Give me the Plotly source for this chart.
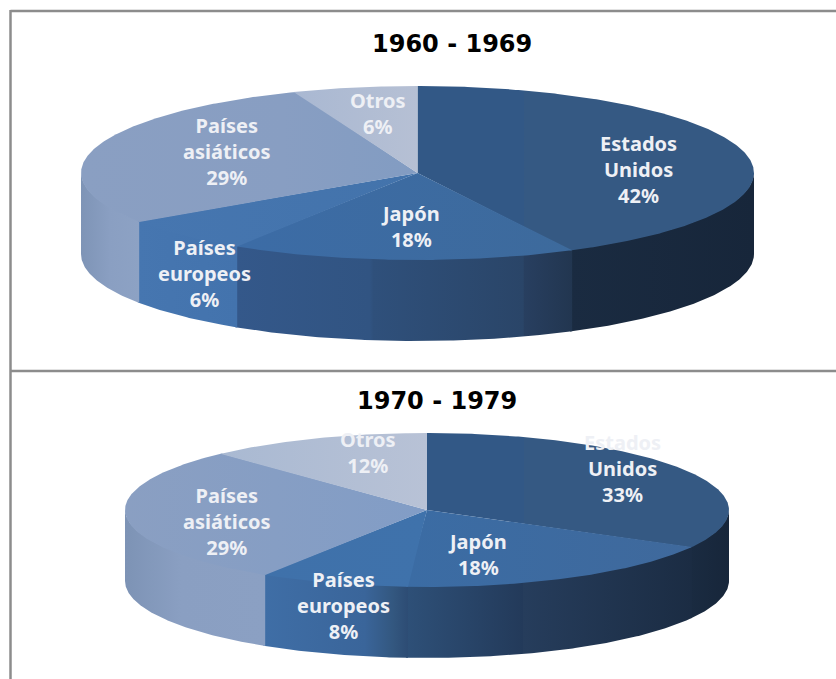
import numpy as np
import plotly.graph_objects as go

W, H = 836, 679

# ---- data ----
periods = ["1960 - 1969", "1970 - 1979"]
categories = ["Estados<br>Unidos", "Japón", "Países<br>europeos", "Países<br>asiáticos", "Otros"]
# percentages printed on the chart
labels_1960s = [42, 18, 6, 29, 6]
labels_1970s = [33, 18, 8, 29, 12]
# slice sizes (the printed 1960s figures add up to 101)
values_1960s = [42.4, 16.6, 6.5, 28.5, 6.0]
values_1970s = [33, 18, 8, 29, 12]

# ---- geometry (pixels) ----
centers_x = [417.5, 427]
centers_y = [173, 510]
radii_x = [336.5, 302]
radii_y = [87, 77]
depths = [81, 71]
title_x = [452, 437]
title_y = [44, 401]
label_x = [[638, 410.5, 204, 227, 378], [622, 477.5, 343, 226.5, 368]]
label_y = [[169.5, 226, 273, 151, 113], [468, 554.5, 605, 521.5, 452]]

# ---- styles ----
top_colors = [
    [[(0, "#325886"), (0.317, "#325886"), (0.318, "#355983"), (1, "#355983")],
     [(0, "#3c6ca6"), (1, "#3d6a9c")],
     [(0, "#4676b0"), (1, "#4373ab")],
     [(0, "#8a9fc2"), (0.6, "#889ec2"), (1, "#829cc2")],
     [(0, "#a9b8d2"), (1, "#b6c0d4")]],
    [[(0, "#325886"), (0.32, "#325886"), (0.321, "#355983"), (1, "#355983")],
     [(0, "#3b6ca4"), (1, "#3f699c")],
     [(0, "#3f71aa"), (1, "#3f72ab")],
     [(0, "#8a9fc2"), (1, "#829dc6")],
     [(0, "#a9b9d2"), (1, "#b8c2d6")]],
]
side_colors = [
    [[(0, "#1a2b41"), (1, "#17263a")],
     [(0, "#34588a"), (0.4, "#315482"), (0.41, "#2f507b"), (0.855, "#2a4568"), (0.857, "#283f60"), (1, "#223650")],
     [(0, "#4676b0"), (1, "#4373ad")],
     [(0, "#7e94b6"), (0.5, "#8a9fc2"), (1, "#8da2c4")],
     [(0, "#aab8d0"), (1, "#aab8d0")]],
    [[(0, "#1a2b41"), (1, "#17263a")],
     [(0, "#2e5078"), (0.41, "#233a5a"), (0.411, "#263d5c"), (1, "#1b2c43")],
     [(0, "#3f6ea6"), (0.7, "#3a659a"), (0.9, "#33577f"), (1, "#2d4c74")],
     [(0, "#7d93b5"), (0.4, "#8a9fc2"), (1, "#8ba0c3")],
     [(0, "#aab8d0"), (1, "#aab8d0")]],
]
frame_color = "#8c8c8c"
label_color = "#eef0f5"
seam = 0.4  # degrees of overlap between neighbouring polygons, hides anti-aliasing seams


def arc(cx, cy, rx, ry, a0, a1):
    t = np.radians(np.linspace(a0, a1, max(int(abs(a1 - a0) * 2), 2)))
    return cx + rx * np.sin(t), cy - ry * np.cos(t)


fig = go.Figure()

for p, (values, printed) in enumerate([(values_1960s, labels_1960s), (values_1970s, labels_1970s)]):
    cx, cy, rx, ry, d = centers_x[p], centers_y[p], radii_x[p], radii_y[p], depths[p]
    edges = np.cumsum([0] + values) / sum(values) * 360

    # visible outer wall (front half of the ellipse)
    for i in range(len(values)):
        a0, a1 = max(edges[i], 90), min(edges[i + 1], 270)
        if a1 <= a0:
            continue
        x, y = arc(cx, cy, rx, ry, a0, min(a1 + seam, 270))
        fig.add_trace(go.Scatter(
            x=np.r_[x, x[::-1]], y=np.r_[y - 1, y[::-1] + d],
            mode="lines", line=dict(width=0), fill="toself",
            fillgradient=dict(type="horizontal", colorscale=side_colors[p][i]),
            hoverinfo="skip", showlegend=False))

    # top surface
    for i in range(len(values)):
        x, y = arc(cx, cy, rx, ry, edges[i], min(edges[i + 1] + seam, 360))
        fig.add_trace(go.Scatter(
            x=np.r_[cx, x, cx], y=np.r_[cy, y, cy],
            mode="lines", line=dict(width=0), fill="toself",
            fillgradient=dict(type="horizontal", colorscale=top_colors[p][i]),
            hoverinfo="skip", showlegend=False))

    # slice labels
    for i, cat in enumerate(categories):
        fig.add_annotation(
            x=label_x[p][i], y=label_y[p][i], xref="x", yref="y",
            text=f"{cat}<br>{printed[i]}%", showarrow=False,
            font=dict(family="Noto Sans", size=20, color=label_color, weight="bold"),
            align="center", xanchor="center", yanchor="middle")

    fig.add_annotation(
        x=title_x[p], y=title_y[p], xref="x", yref="y", text=f"<b>{periods[p]}</b>",
        showarrow=False, font=dict(family="DejaVu Sans", size=24, color="#000000"),
        xanchor="center", yanchor="middle")

# frame lines
for x0, y0, x1, y1 in [(10.5, 11, W, 11), (10.5, 10, 10.5, H), (10.5, 371, W, 371)]:
    fig.add_shape(type="line", x0=x0, y0=y0, x1=x1, y1=y1, xref="x", yref="y",
                  line=dict(color=frame_color, width=2.5))

fig.update_layout(
    width=W, height=H, margin=dict(l=0, r=0, t=0, b=0),
    paper_bgcolor="white", plot_bgcolor="white", showlegend=False,
    xaxis=dict(range=[0, W], visible=False, fixedrange=True),
    yaxis=dict(range=[H, 0], visible=False, fixedrange=True),
)
fig.write_html("out.html", config=dict(displayModeBar=False),
               post_script="document.body.style.margin='0';")
